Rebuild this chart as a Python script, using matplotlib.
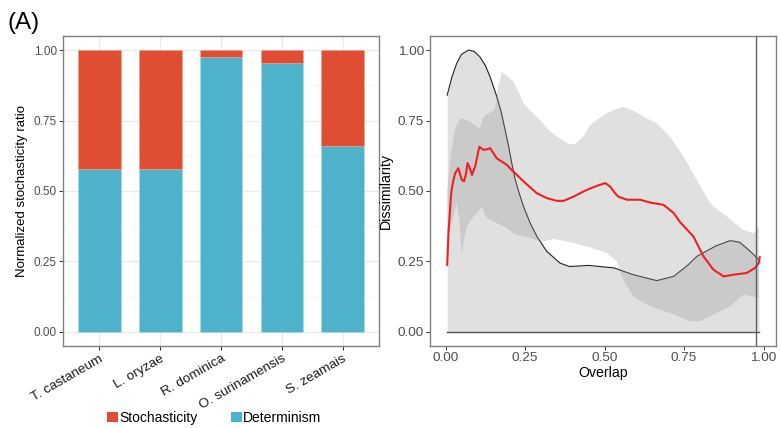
import numpy as np
import matplotlib
matplotlib.use('Agg')
import matplotlib.pyplot as plt
from matplotlib.patches import Patch
from matplotlib.transforms import ScaledTranslation

plt.rcParams['font.family'] = ['Liberation Sans', 'DejaVu Sans']

# ---------------------
# data: panel A left (stacked ratio)
# ---------------------
species = ['T. castaneum', 'L. oryzae', 'R. dominica', 'O. surinamensis', 'S. zeamais']
determinism = [0.579, 0.578, 0.976, 0.955, 0.658]
stochasticity = [0.421, 0.422, 0.024, 0.045, 0.342]

# ---------------------
# data: panel A right (dissimilarity-overlap curve)
# ---------------------
dens_x = [0.005, 0.02, 0.035, 0.05, 0.072, 0.09, 0.108, 0.125, 0.14, 0.161, 0.175, 0.187,
          0.198, 0.208, 0.219, 0.232, 0.245, 0.266, 0.287, 0.318, 0.36, 0.39, 0.45, 0.53,
          0.59, 0.664, 0.717, 0.76, 0.79, 0.85, 0.895, 0.925, 0.947, 0.968, 0.985]
dens_y = [0.84, 0.905, 0.953, 0.985, 1.0, 0.995, 0.976, 0.945, 0.905, 0.835, 0.78, 0.717,
          0.66, 0.599, 0.54, 0.49, 0.445, 0.386, 0.339, 0.286, 0.244, 0.232, 0.236, 0.227,
          0.203, 0.182, 0.197, 0.235, 0.268, 0.305, 0.324, 0.318, 0.297, 0.275, 0.256]

upper_x = [0.005, 0.015, 0.03, 0.046, 0.06, 0.077, 0.095, 0.108, 0.119, 0.135, 0.155, 0.165,
           0.177, 0.19, 0.213, 0.23, 0.245, 0.27, 0.297, 0.32, 0.35, 0.386, 0.407, 0.433,
           0.454, 0.48, 0.507, 0.535, 0.559, 0.59, 0.622, 0.664, 0.706, 0.748, 0.79, 0.832,
           0.858, 0.884, 0.91, 0.936, 0.968, 0.985]
upper_y = [0.50, 0.62, 0.72, 0.758, 0.755, 0.746, 0.73, 0.722, 0.764, 0.775, 0.79, 0.87,
           0.923, 0.91, 0.888, 0.85, 0.811, 0.78, 0.752, 0.72, 0.693, 0.667, 0.667, 0.693,
           0.734, 0.755, 0.776, 0.79, 0.799, 0.785, 0.764, 0.74, 0.693, 0.622, 0.539, 0.457,
           0.43, 0.41, 0.385, 0.362, 0.35, 0.374]

lower_x = [0.005, 0.019, 0.028, 0.035, 0.043, 0.051, 0.058, 0.067, 0.088, 0.105, 0.114,
           0.122, 0.13, 0.161, 0.19, 0.213, 0.24, 0.266, 0.297, 0.308, 0.339, 0.381, 0.444,
           0.507, 0.538, 0.559, 0.59, 0.643, 0.706, 0.769, 0.8, 0.842, 0.895, 0.936, 0.985]
lower_y = [0.35, 0.386, 0.43, 0.457, 0.40, 0.274, 0.33, 0.374, 0.41, 0.43, 0.445,
           0.42, 0.404, 0.386, 0.37, 0.35, 0.34, 0.333, 0.321, 0.321, 0.33, 0.321, 0.303,
           0.28, 0.25, 0.185, 0.126, 0.091, 0.067, 0.038, 0.038, 0.061, 0.091, 0.132, 0.12]

fit_x = [0.005, 0.009, 0.016, 0.019, 0.025, 0.03, 0.04, 0.051, 0.058, 0.064, 0.069, 0.075,
         0.083, 0.093, 0.106, 0.119, 0.13, 0.14, 0.161, 0.192, 0.213, 0.245, 0.287, 0.318,
         0.35, 0.371, 0.402, 0.444, 0.475, 0.502, 0.517, 0.533, 0.543, 0.57, 0.612, 0.643,
         0.685, 0.717, 0.737, 0.779, 0.811, 0.842, 0.874, 0.905, 0.947, 0.973, 0.985, 0.988]
fit_y = [0.238, 0.35, 0.469, 0.504, 0.54, 0.563, 0.581, 0.54, 0.534, 0.56, 0.599, 0.585,
         0.557, 0.587, 0.657, 0.646, 0.648, 0.652, 0.616, 0.593, 0.569, 0.534, 0.492, 0.475,
         0.465, 0.465, 0.48, 0.504, 0.518, 0.528, 0.516, 0.492, 0.48, 0.469, 0.469, 0.459,
         0.451, 0.422, 0.39, 0.339, 0.268, 0.221, 0.197, 0.203, 0.209, 0.227, 0.245, 0.265]

vline_x = 0.976
yticks = [0.0, 0.25, 0.5, 0.75, 1.0]

RED = '#DF4D33'
BLUE = '#4DB2CA'

fig = plt.figure(figsize=(7.81, 4.28), dpi=100)
ax1 = fig.add_axes([0.0807, 0.1916, 0.4046, 0.7243])
ax2 = fig.add_axes([0.5506, 0.1916, 0.4430, 0.7243])

# ---------------------
# left: stacked bars
# ---------------------
pos = np.arange(1, len(species) + 1)
ax1.bar(pos, determinism, width=0.7, color=BLUE, edgecolor='#A9DCE8', lw=0.4, zorder=3)
ax1.bar(pos, stochasticity, width=0.7, bottom=determinism, color=RED,
        edgecolor='#EFA090', lw=0.4, zorder=3)
ax1.set_xlim(0.4, 5.6)
ax1.set_ylim(-0.05, 1.05)
ax1.set_yticks(yticks)
ax1.set_yticklabels([f'{v:.2f}' for v in yticks])
ax1.set_yticks([0.125, 0.375, 0.625, 0.875], minor=True)
ax1.set_xticks(pos)
ax1.set_xticklabels(species, rotation=30, ha='right', va='top',
                    rotation_mode='anchor', fontsize=9.7, color='#1A1A1A')
for lab in ax1.get_xticklabels():
    lab.set_transform(lab.get_transform() + ScaledTranslation(0.09, -0.01, fig.dpi_scale_trans))
ax1.grid(which='major', color='#EBEBEB', lw=0.9, zorder=0)
ax1.grid(which='minor', axis='y', color='#F4F4F4', lw=0.5, zorder=0)
ax1.tick_params(axis='y', which='major', labelsize=8.5, labelcolor='#4D4D4D',
                length=3, color='#333333', width=0.7, pad=1.5)
ax1.tick_params(axis='x', length=3, color='#333333', width=0.7, pad=2)
ax1.tick_params(which='minor', length=0)
ax1.set_ylabel('Normalized stochasticity ratio', fontsize=9.5, labelpad=4)
for s in ax1.spines.values():
    s.set_color('#808080')
    s.set_linewidth(1.0)

# ---------------------
# right: dissimilarity-overlap
# ---------------------
ax2.fill_between(dens_x, 0, dens_y, color='#999999', alpha=0.3, lw=0, zorder=1)
ax2.plot(dens_x, dens_y, color='#222222', lw=0.8, zorder=2)
ax2.fill(np.concatenate([upper_x, lower_x[::-1]]), np.concatenate([upper_y, lower_y[::-1]]),
         color='#999999', alpha=0.3, lw=0, zorder=3)
ax2.plot([dens_x[0], dens_x[-1]], [0, 0], color='#555555', lw=1.0, zorder=4)
ax2.plot(fit_x, fit_y, color='#EE2020', lw=1.5, zorder=5)
ax2.axvline(vline_x, color='#606060', lw=1.0, zorder=6)
ax2.set_xlim(-0.049, 1.039)
ax2.set_ylim(-0.05, 1.05)
ax2.set_yticks(yticks)
ax2.set_yticklabels([f'{v:.2f}' for v in yticks])
ax2.set_xticks(yticks)
ax2.set_xticklabels([f'{v:.2f}' for v in yticks])
ax2.tick_params(labelsize=9.7, labelcolor='#4D4D4D', length=3, color='#333333',
                width=0.7, pad=1.5)
ax2.set_xlabel('Overlap', fontsize=10.2, labelpad=1)
ax2.set_ylabel('Dissimilarity', fontsize=10.2, labelpad=3)
for s in ax2.spines.values():
    s.set_color('#808080')
    s.set_linewidth(1.0)

# ---------------------
# legend + panel tag
# ---------------------
handles = [Patch(facecolor=RED, label='Stochasticity'),
           Patch(facecolor=BLUE, label='Determinism')]
fig.legend(handles=handles, loc='center', bbox_to_anchor=(0.274, 0.024), ncol=2,
           frameon=False, fontsize=10, handlelength=0.8, handleheight=0.8,
           handletextpad=0.1, columnspacing=2.4, borderpad=0)
fig.text(0.01, 0.947, '(A)', fontsize=17.5, va='center', ha='left')

fig.savefig('out.png', dpi=100)
